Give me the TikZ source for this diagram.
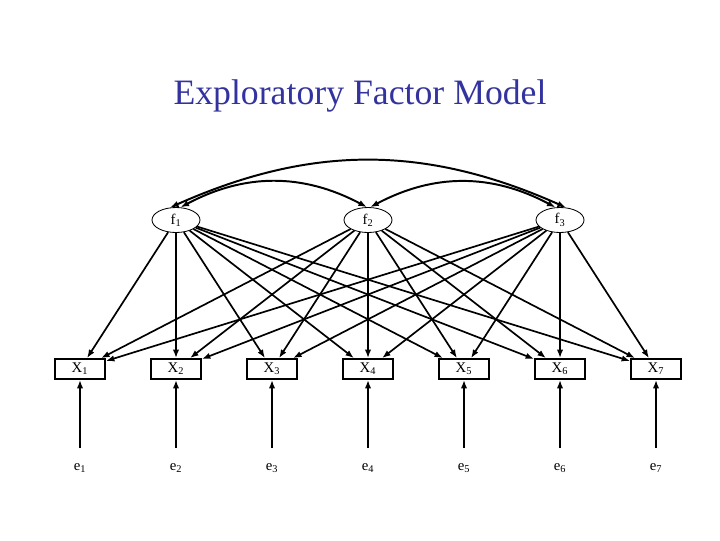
\documentclass[tikz,border=0pt]{standalone}
\usepackage{fontspec}
\setmainfont{Liberation Serif}
\usetikzlibrary{arrows.meta,shapes.geometric}
\definecolor{titleblue}{RGB}{51,51,160}

\begin{document}
\begin{tikzpicture}[x=0.025cm,y=-0.025cm,
        factor/.style={draw,ellipse,line width=0.6pt,minimum width=1.2cm,minimum height=0.625cm,inner sep=0pt,font=\fontsize{10.5}{12}\selectfont},
        obs/.style={draw,rectangle,line width=1.3pt,minimum width=1.25cm,minimum height=0.5cm,inner sep=0pt,font=\fontsize{10.5}{12}\selectfont},
        err/.style={inner sep=1pt,font=\fontsize{10.5}{12}\selectfont},
        load/.style={-{Latex[length=6pt,width=4.5pt]},line width=1.2pt},
        corr/.style={{Latex[length=6pt,width=4.5pt]}-{Latex[length=6pt,width=4.5pt]},line width=1.4pt}]
        \useasboundingbox (0,0) rectangle (720,540);

        \node[font=\fontsize{25.4}{30}\selectfont,text=titleblue] (title) at (360,96) {Exploratory Factor Model};

        % factors
        \node[factor] (f1) at (176,220) {f\textsubscript{1}};
        \node[factor] (f2) at (368,220) {f\textsubscript{2}};
        \node[factor] (f3) at (560,220) {f\textsubscript{3}};

        % observed variables
        \node[obs] (x1) at (80,369) {X\textsubscript{1}};
        \node[obs] (x2) at (176,369) {X\textsubscript{2}};
        \node[obs] (x3) at (272,369) {X\textsubscript{3}};
        \node[obs] (x4) at (368,369) {X\textsubscript{4}};
        \node[obs] (x5) at (464,369) {X\textsubscript{5}};
        \node[obs] (x6) at (560,369) {X\textsubscript{6}};
        \node[obs] (x7) at (656,369) {X\textsubscript{7}};

        % errors
        \node[err] (e1) at (80,468) {e\textsubscript{1}};
        \node[err] (e2) at (176,468) {e\textsubscript{2}};
        \node[err] (e3) at (272,468) {e\textsubscript{3}};
        \node[err] (e4) at (368,468) {e\textsubscript{4}};
        \node[err] (e5) at (464,468) {e\textsubscript{5}};
        \node[err] (e6) at (560,468) {e\textsubscript{6}};
        \node[err] (e7) at (656,468) {e\textsubscript{7}};

        % loadings of f1
        \draw[load] (f1) -- (x1);
        \draw[load] (f1) -- (x2);
        \draw[load] (f1) -- (x3);
        \draw[load] (f1) -- (x4);
        \draw[load] (f1) -- (x5);
        \draw[load] (f1) -- (x6);
        \draw[load] (f1) -- (x7);

        % loadings of f2
        \draw[load] (f2) -- (x1);
        \draw[load] (f2) -- (x2);
        \draw[load] (f2) -- (x3);
        \draw[load] (f2) -- (x4);
        \draw[load] (f2) -- (x5);
        \draw[load] (f2) -- (x6);
        \draw[load] (f2) -- (x7);

        % loadings of f3
        \draw[load] (f3) -- (x1);
        \draw[load] (f3) -- (x2);
        \draw[load] (f3) -- (x3);
        \draw[load] (f3) -- (x4);
        \draw[load] (f3) -- (x5);
        \draw[load] (f3) -- (x6);
        \draw[load] (f3) -- (x7);

        % error terms
        \draw[load] ([yshift=0.35cm]e1.north) -- (x1);
        \draw[load] ([yshift=0.35cm]e2.north) -- (x2);
        \draw[load] ([yshift=0.35cm]e3.north) -- (x3);
        \draw[load] ([yshift=0.35cm]e4.north) -- (x4);
        \draw[load] ([yshift=0.35cm]e5.north) -- (x5);
        \draw[load] ([yshift=0.35cm]e6.north) -- (x6);
        \draw[load] ([yshift=0.35cm]e7.north) -- (x7);

        % factor correlations
        \draw[corr] (f1.70) to[bend left=28] (f2.95);
        \draw[corr] (f2.80) to[bend left=28] (f3.110);
        \draw[corr] (f1.115) to[bend left=24] (f3.65);
    \end{tikzpicture}
\end{document}
